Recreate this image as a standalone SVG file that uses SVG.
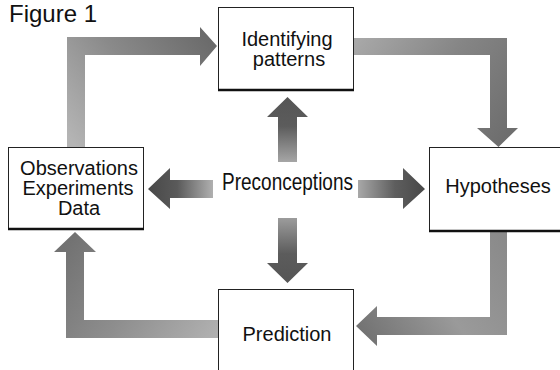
<svg xmlns="http://www.w3.org/2000/svg" width="560" height="370" viewBox="0 0 560 370">
  <style>
    text { font-family: "Liberation Sans", Arial, sans-serif; fill: #111; }
    .lbl { font-size: 20px; text-anchor: middle; }
    .box { fill: #fff; stroke: #222; stroke-width: 1; }
    .shadow { stroke: #111; stroke-width: 2.5; fill: none; }
  </style>
  <defs>
    <linearGradient id="gTL" gradientUnits="userSpaceOnUse" x1="76" y1="147" x2="217" y2="46">
      <stop offset="0" stop-color="#b4b4b4"/>
      <stop offset="0.5" stop-color="#8a8a8a"/>
      <stop offset="1" stop-color="#6a6a6a"/>
    </linearGradient>
    <linearGradient id="gTR" gradientUnits="userSpaceOnUse" x1="353" y1="46" x2="498" y2="147">
      <stop offset="0" stop-color="#a8a8a8"/>
      <stop offset="0.5" stop-color="#858585"/>
      <stop offset="1" stop-color="#6e6e6e"/>
    </linearGradient>
    <linearGradient id="gBR" gradientUnits="userSpaceOnUse" x1="498" y1="231" x2="356" y2="326">
      <stop offset="0" stop-color="#8a8a8a"/>
      <stop offset="0.5" stop-color="#9a9a9a"/>
      <stop offset="1" stop-color="#727272"/>
    </linearGradient>
    <linearGradient id="gBL" gradientUnits="userSpaceOnUse" x1="218" y1="329" x2="75" y2="232">
      <stop offset="0" stop-color="#b0b0b0"/>
      <stop offset="0.5" stop-color="#8e8e8e"/>
      <stop offset="1" stop-color="#727272"/>
    </linearGradient>
    <linearGradient id="gUp" x1="0" y1="1" x2="0" y2="0">
      <stop offset="0" stop-color="#a6a6a6"/>
      <stop offset="0.55" stop-color="#5c5c5c"/>
      <stop offset="1" stop-color="#555"/>
    </linearGradient>
    <linearGradient id="gDown" x1="0" y1="0" x2="0" y2="1">
      <stop offset="0" stop-color="#9c9c9c"/>
      <stop offset="0.55" stop-color="#5c5c5c"/>
      <stop offset="1" stop-color="#555"/>
    </linearGradient>
    <linearGradient id="gLeft" x1="1" y1="0" x2="0" y2="0">
      <stop offset="0" stop-color="#b0b0b0"/>
      <stop offset="0.55" stop-color="#5a5a5a"/>
      <stop offset="1" stop-color="#484848"/>
    </linearGradient>
    <linearGradient id="gRight" x1="0" y1="0" x2="1" y2="0">
      <stop offset="0" stop-color="#a8a8a8"/>
      <stop offset="0.55" stop-color="#5e5e5e"/>
      <stop offset="1" stop-color="#484848"/>
    </linearGradient>
  </defs>

  <text x="9" y="22" style="font-size:24px">Figure 1</text>

  <g id="connectors">
    <polygon fill="url(#gTL)" points="67,147 67,37 200,37 200,27 217,46 200,66 200,55 85,55 85,147"/>
    <polygon fill="url(#gTR)" points="353,38 507,38 507,128 518,128 498.5,147 477,128 490,128 490,55 353,55"/>
    <polygon fill="url(#gBR)" points="490,231 507,231 507,335 377,335 377,346 356,326 377,306 377,317 490,317"/>
    <polygon fill="url(#gBL)" points="218,320 218,338 66,338 66,252 54,252 75,232 96,252 84,252 84,320"/>
    <polygon fill="url(#gUp)" points="278,162 278,117 267,117 287.5,97 308,117 297,117 297,162"/>
    <polygon fill="url(#gDown)" points="278,218 278,263 267,263 287.5,283 308,263 297,263 297,218"/>
    <polygon fill="url(#gLeft)" points="213,180 170,180 170,168 148,189 170,209 170,198 213,198"/>
    <polygon fill="url(#gRight)" points="358,180 403,180 403,168 425,189 403,209 403,198 358,198"/>
  </g>

  <g id="identifying">
    <rect class="box" x="218.5" y="7.5" width="135" height="82"/>
    <line class="shadow" x1="218" y1="90" x2="354" y2="90"/>
    <text class="lbl" x="287" y="46">Identifying</text>
    <text class="lbl" x="289" y="66">patterns</text>
  </g>

  <g id="observations">
    <rect class="box" x="8.5" y="147.5" width="135" height="81"/>
    <line class="shadow" x1="8" y1="229" x2="144" y2="229"/>
    <text class="lbl" x="79" y="175">Observations</text>
    <text class="lbl" x="78" y="195">Experiments</text>
    <text class="lbl" x="79" y="215">Data</text>
  </g>

  <g id="hypotheses">
    <rect class="box" x="429.5" y="147.5" width="140" height="83"/>
    <line class="shadow" x1="429" y1="231" x2="560" y2="231"/>
    <text class="lbl" x="498" y="193">Hypotheses</text>
  </g>

  <g id="prediction">
    <rect class="box" x="218.5" y="289.5" width="135" height="90"/>
    <text class="lbl" x="287" y="341">Prediction</text>
  </g>

  <g id="preconceptions">
    <text x="222" y="190" style="font-size:23px" textLength="131" lengthAdjust="spacingAndGlyphs">Preconceptions</text>
  </g>
</svg>
